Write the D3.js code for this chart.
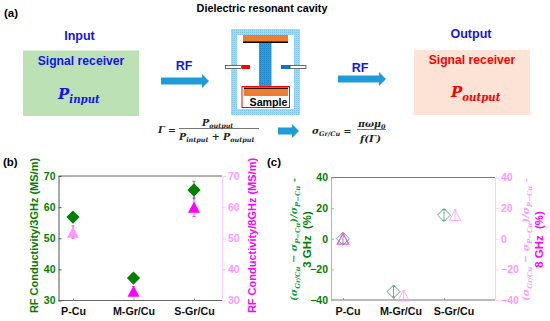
<!DOCTYPE html>
<html>
<head>
<meta charset="utf-8">
<script src="https://cdn.jsdelivr.net/npm/d3@7"></script>
<style>
html, body { margin: 0; padding: 0; background: #fff; }
svg { display: block; }
text { font-family: "Liberation Sans", Arial, sans-serif; font-weight: bold; }
.math { font-family: "DejaVu Serif", serif; font-style: italic; font-weight: bold; }
</style>
</head>
<body>
<svg width="550" height="321"></svg>
<script>
var categories = ["P-Cu", "M-Gr/Cu", "S-Gr/Cu"];
var ticksB = [30, 40, 50, 60, 70];
var ticksC = [-40, -20, 0, 20, 40];

var green3GHz = [56.8, 37.2, 65.5];
var green3GHzErr = [0.6, 0.8, 2.8];
var pink8GHz = [52, 33, 60];
var pink8GHzErr = [2, 1.5, 3];

var greenChange = [0, -34.5, 15.5];
var greenChangeErr = [3, 3.5, 3.5];
var pinkChange = [0, -37, 15.5];
var pinkChangeErr = [2, 3, 3.5];
var pinkChangeX = [1, 2.2, 3.22];

var GREEN = "#008000", MAGENTA = "#ff00ff", LIGHT = "#ff99ff", PALE = "#ffccff", BLUE = "#1414f0", RED = "#ff0000", ARROW = "#1f9bd7", ORANGE = "#ed7d31";

var svg = d3.select("svg");

// dotted fills used by the cavity
var defs = svg.append("defs");
function dots(id, bg, dot) {
  var p = defs.append("pattern").attr("id", id).attr("width", 2).attr("height", 2).attr("patternUnits", "userSpaceOnUse");
  p.append("rect").attr("width", 2).attr("height", 2).attr("fill", bg);
  p.append("rect").attr("width", 1).attr("height", 1).attr("fill", dot);
}
dots("wall", "#a5d9f2", "#7cc4ea");
dots("stem", "#2a9ed8", "#1c86c8");

function label(x, y, str, size, color, anchor) {
  return svg.append("text").attr("x", x).attr("y", y).attr("font-size", size)
    .attr("fill", color || "#000").attr("text-anchor", anchor || "start").text(str);
}

// math text: parts are [text, isSub, backToBaseline]
function math(parent, x, y, parts, size, color, anchor) {
  var t = parent.append("text").attr("class", "math").attr("x", x).attr("y", y)
    .attr("font-size", size).attr("fill", color).attr("text-anchor", anchor || "start");
  parts.forEach(function(p) {
    t.append("tspan").attr("font-size", p[1] ? size * 0.68 : size)
      .attr("dy", p[1] ? size * 0.25 : (p[2] ? -size * 0.25 : 0)).text(p[0]);
  });
  return t;
}

function arrow(x0, x1, y) {
  svg.append("path")
    .attr("d", "M" + x0 + "," + (y - 3.5) + "H" + (x1 - 7) + "V" + (y - 7) + "L" + x1 + "," + y + "L" + (x1 - 7) + "," + (y + 7) + "V" + (y + 3.5) + "H" + x0 + "Z")
    .attr("fill", ARROW);
}

// panel (a)
label(4, 17, "(a)", 11.5);
label(262, 12, "Dielectric resonant cavity", 10.8, "#000", "middle");
label(79.5, 40, "Input", 12.5, BLUE, "middle");
label(471, 38, "Output", 12.5, BLUE, "middle");

svg.append("rect").attr("x", 23).attr("y", 50.5).attr("width", 116).attr("height", 65.5).attr("fill", "#bbe1b5");
svg.append("rect").attr("x", 414).attr("y", 50).attr("width", 116).attr("height", 65).attr("fill", "#fce3d5");
label(81, 65, "Signal receiver", 12.2, BLUE, "middle");
label(472, 64, "Signal receiver", 12.2, RED, "middle");
math(svg, 58, 99, [["P", false], ["input", true]], 15, BLUE);
math(svg, 451, 97, [["P", false], ["output", true]], 15, RED);

label(184, 70, "RF", 12.5, BLUE, "middle");
label(360, 72, "RF", 12.5, BLUE, "middle");
arrow(161, 209, 81);
arrow(338, 386, 79);
arrow(278, 299, 131);

// cavity
svg.append("rect").attr("x", 234).attr("y", 32).attr("width", 63).attr("height", 80)
  .attr("fill", "#fff").attr("stroke", "url(#wall)").attr("stroke-width", 6);
svg.append("rect").attr("x", 243).attr("y", 35).attr("width", 45).attr("height", 7).attr("fill", ORANGE);
svg.append("rect").attr("x", 243).attr("y", 41.5).attr("width", 45).attr("height", 1.5).attr("fill", "#000");
svg.append("rect").attr("x", 259).attr("y", 43).attr("width", 12.5).attr("height", 44).attr("fill", "url(#stem)");
svg.append("rect").attr("x", 242).attr("y", 86.5).attr("width", 47.5).attr("height", 21).attr("fill", "#fff").attr("stroke", RED).attr("stroke-width", 1);
svg.append("rect").attr("x", 244).attr("y", 88).attr("width", 44).attr("height", 8).attr("fill", ORANGE);
svg.append("rect").attr("x", 244).attr("y", 87.5).attr("width", 44).attr("height", 1.3).attr("fill", "#000");
label(249.5, 106.3, "Sample", 10.7);
svg.append("rect").attr("x", 225.5).attr("y", 65.5).attr("width", 16).attr("height", 3).attr("fill", "#fff").attr("stroke", "#333").attr("stroke-width", 0.7);
svg.append("rect").attr("x", 242).attr("y", 65).attr("width", 8).attr("height", 4).attr("fill", RED);
svg.append("rect").attr("x", 281).attr("y", 65).attr("width", 9).attr("height", 4).attr("fill", "#0b72cf");
svg.append("rect").attr("x", 290).attr("y", 65.5).attr("width", 16).attr("height", 3).attr("fill", "#fff").attr("stroke", "#333").attr("stroke-width", 0.7);

// formulas
math(svg, 158, 133, [["Γ =", false]], 9.5, "#222");
math(svg, 202, 126, [["P", false], ["output", true]], 9.5, "#222");
svg.append("line").attr("x1", 179).attr("x2", 259).attr("y1", 128.5).attr("y2", 128.5).attr("stroke", "#555").attr("stroke-width", 0.8);
math(svg, 179, 139.5, [["P", false], ["intput", true], [" + ", false, true], ["P", false], ["output", true]], 9.5, "#222");
math(svg, 312, 134, [["σ", false], ["Gr/Cu", true], [" =", false, true]], 9.5, "#222");
math(svg, 358, 127, [["πωμ", false], ["0", true]], 9.5, "#222");
svg.append("line").attr("x1", 357).attr("x2", 386).attr("y1", 129.5).attr("y2", 129.5).attr("stroke", "#555").attr("stroke-width", 0.8);
math(svg, 360, 142, [["f(Γ)", false]], 10, "#222");

label(3, 166, "(b)", 11.5);
label(267, 166, "(c)", 11.5);

// draws axes, frame and category ticks of a lower panel
function panel(box, leftTicks, xPos, leftColor, rightTickColor, axisColor, rightLineColor, catDx) {
  var x = d3.scaleLinear().domain([1, 3]).range(xPos);
  var y = d3.scaleLinear().domain(d3.extent(leftTicks)).range([box.bottom, box.top]);

  svg.append("line").attr("x1", box.left).attr("x2", box.right).attr("y1", box.top).attr("y2", box.top).attr("stroke", axisColor.top);
  svg.append("line").attr("x1", box.left).attr("x2", box.right).attr("y1", box.bottom).attr("y2", box.bottom).attr("stroke", axisColor.bottom);

  var left = svg.append("g").attr("transform", "translate(" + box.left + ",0)")
    .call(d3.axisLeft(y).tickValues(leftTicks).tickSizeInner(-3).tickSizeOuter(0).tickPadding(3).tickFormat(d3.format("d")));
  left.selectAll("path,line").attr("stroke", axisColor.left);
  left.selectAll("text").attr("fill", leftColor).attr("font-size", 10.5).attr("font-family", "Liberation Sans");

  var right = svg.append("g").attr("transform", "translate(" + box.right + ",0)")
    .call(d3.axisRight(y).tickValues(leftTicks).tickSize(4).tickSizeOuter(0).tickPadding(2).tickFormat(d3.format("d")));
  right.selectAll("path,line").attr("stroke", rightLineColor);
  right.selectAll("text").attr("fill", rightTickColor).attr("font-size", 10.5).attr("font-family", "Liberation Sans");

  var bottom = svg.append("g").attr("transform", "translate(0," + box.bottom + ")")
    .call(d3.axisBottom(x).tickValues([1, 2, 3]).tickSize(-2).tickSizeOuter(0).tickPadding(7)
      .tickFormat(function(d) { return categories[d - 1]; }));
  bottom.select("path").remove();
  bottom.selectAll("line").attr("stroke", "#999");
  bottom.selectAll("text").attr("fill", "#111").attr("font-size", 10.7).attr("font-family", "Liberation Sans")
    .attr("dx", function(d) { return catDx[d - 1]; });
  return {x: x, y: y};
}

function errorBars(xs, ys, errs, s, color) {
  svg.append("g").selectAll("path").data(ys).enter().append("path")
    .attr("d", function(d, i) {
      var px = s.x(xs ? xs[i] : i + 1);
      var y0 = s.y(d - errs[i]), y1 = s.y(d + errs[i]);
      return "M" + (px - 1.5) + "," + y0 + "H" + (px + 1.5) + "M" + px + "," + y0 + "V" + y1 + "M" + (px - 1.5) + "," + y1 + "H" + (px + 1.5);
    })
    .attr("fill", "none").attr("stroke", color).attr("stroke-width", 0.7);
}

function points(xs, ys, s, type, size, fill, stroke, strokeWidth) {
  svg.append("g").selectAll("path").data(ys).enter().append("path")
    .attr("d", d3.symbol().type(type).size(size))
    .attr("transform", function(d, i) {
      return "translate(" + s.x(xs ? xs[i] : i + 1) + "," + s.y(d) + ")";
    })
    .attr("fill", fill)
    .attr("stroke", stroke || "none").attr("stroke-width", strokeWidth || 0.8);
}

var diamond = {draw: function(ctx, size) {
  var r = Math.sqrt(size / 2);
  ctx.moveTo(0, -r); ctx.lineTo(r, 0); ctx.lineTo(0, r); ctx.lineTo(-r, 0); ctx.closePath();
}};
var triangle = {draw: function(ctx, size) {
  var r = Math.sqrt(size);
  ctx.moveTo(0, -r * 0.58); ctx.lineTo(r * 0.62, r * 0.58); ctx.lineTo(-r * 0.62, r * 0.58); ctx.closePath();
}};

// panel (b)
var b = panel({left: 58.5, right: 222, top: 176, bottom: 300.5}, ticksB, [73, 194],
  GREEN, LIGHT, {top: "#666", bottom: "#666", left: "#555"}, PALE, [0, 0, 0]);
errorBars(null, green3GHz, green3GHzErr, b, GREEN);
errorBars(null, pink8GHz, pink8GHzErr, b, MAGENTA);
points(null, green3GHz, b, diamond, 88, GREEN);
points(null, pink8GHz, b, triangle, 94, function(d, i) { return i === 0 ? LIGHT : MAGENTA; });

svg.append("text").attr("transform", "translate(38,235.5) rotate(-90)").attr("text-anchor", "middle")
  .attr("font-size", 11).attr("fill", GREEN).text("RF Conductivity/3GHz (MS/m)");
svg.append("text").attr("transform", "translate(256,235.5) rotate(-90)").attr("text-anchor", "middle")
  .attr("font-size", 11).attr("fill", MAGENTA).text("RF Conductivity/8GHz (MS/m)");

// panel (c)
var c = panel({left: 331, right: 495, top: 177.5, bottom: 300}, ticksC, [343, 444],
  GREEN, LIGHT, {top: "#777", bottom: "#777", left: "#8fd08f"}, PALE, [4.5, 7, 9.5]);
errorBars(null, greenChange, greenChangeErr, c, "#2e9e4a");
errorBars(pinkChangeX, pinkChange, pinkChangeErr, c, LIGHT);
points(null, greenChange, c, diamond, 85, "none", "#2e9e4a");
points(pinkChangeX, pinkChange, c, triangle, 85, "none", function(d, i) { return i === 0 ? "#e060e0" : LIGHT; }, function(d, i) { return i === 0 ? 1.3 : 0.8; });

function yTitle(cx, cy, color, second, str) {
  var g = svg.append("g").attr("transform", "translate(" + cx + "," + cy + ") rotate(-90)");
  math(g, 0, 0, [["(σ", false], ["Gr/Cu", true], [" − σ", false, true], ["P−Cu", true], [")/σ", false, true], ["P−Cu", true], [" -", false, true]], 10, color, "middle");
  g.append("text").attr("x", 0).attr("y", 14).attr("text-anchor", "middle").attr("font-size", 11.4)
    .attr("fill", second).attr("xml:space", "preserve").text(str);
}
yTitle(297, 239.5, "#10a040", GREEN, "3 GHz  (%)");
yTitle(529, 239.5, LIGHT, MAGENTA, "8 GHz  (%)");
</script>
</body>
</html>
